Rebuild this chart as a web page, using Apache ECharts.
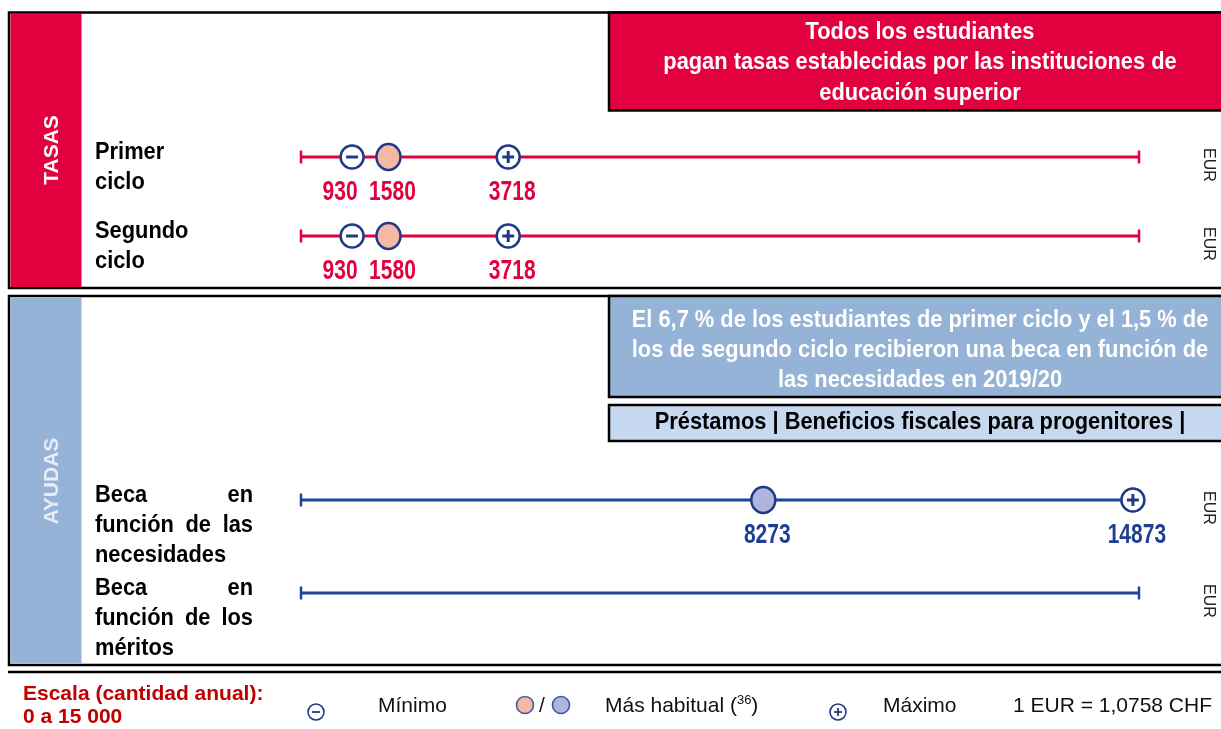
<!DOCTYPE html>
<html>
<head>
<meta charset="utf-8">
<script src="https://cdn.jsdelivr.net/npm/echarts@6/dist/echarts.min.js"></script>
<style>
  html, body { margin: 0; padding: 0; background: #fff; }
  #chart { width: 1221px; height: 729px; }
</style>
</head>
<body>
<div id="chart"></div>
<script>
// filas de cada bloque
const tasasRows = ['Primer\nciclo', 'Segundo\nciclo']
const ayudasRows = ['Beca en\nfunción de las\nnecesidades', 'Beca en\nfunción de los\nméritos']
// importes (EUR), null = sin dato
const tasasMin = [930, 930]
const tasasHab = [1580, 1580]
const tasasMax = [3718, 3718]
const ayudasMin = [null, null]
const ayudasHab = [8273, null]
const ayudasMax = [14873, null]
const scaleMin = 0
const scaleMax = 15000

const RED = '#e3003e'
const BLUE = '#1f4597'
const RING = '#203a8a'
const SANS = '"Liberation Sans", Arial, sans-serif'
const BOLD = 'bold 24px ' + SANS
const SQUEEZE = 0.91 // simula la fuente estrecha del original

const chart = echarts.init(document.getElementById('chart'))

const ctx = document.createElement('canvas').getContext('2d')
function measure(text, font)
{
  ctx.font = font
  return ctx.measureText(text).width
}

// datos para las series custom
function markerData(rows, mins, habs, maxs)
{
  const out = []
  rows.forEach((r, i) =>
  {
    if (mins[i] != null) out.push([mins[i], r, 'min'])
    if (habs[i] != null) out.push([habs[i], r, 'hab'])
    if (maxs[i] != null) out.push([maxs[i], r, 'max'])
  })
  return out
}

// etiqueta de fila, justificada como en el original
function rowLabel(label, x0, yFirst, justify)
{
  const lines = label.split('\n')
  const width = 158
  const out = []
  lines.forEach((line, li) =>
  {
    const y = yFirst + li * 30.3
    const words = line.split(' ')
    const last = li === lines.length - 1
    if (!justify || last || words.length < 2)
    {
      out.push({ type: 'text', x: x0, y: y, scaleX: SQUEEZE,
        style: { text: line, fill: '#000', font: BOLD, align: 'left', verticalAlign: 'middle' } })
      return
    }
    const ws = words.map(w => measure(w, BOLD) * SQUEEZE)
    const gap = (width - ws.reduce((a, b) => a + b, 0)) / (words.length - 1)
    let x = x0
    words.forEach((w, i) =>
    {
      out.push({ type: 'text', x: x, y: y, scaleX: SQUEEZE,
        style: { text: w, fill: '#000', font: BOLD, align: 'left', verticalAlign: 'middle' } })
      x += ws[i] + gap
    })
  })
  return out
}

function scaleSeries(gridIdx, rows, color, justify)
{
  return {
    type: 'custom',
    xAxisIndex: gridIdx,
    yAxisIndex: gridIdx,
    silent: true,
    data: rows.map(r => [scaleMin, scaleMax, r]),
    encode: { x: [0, 1], y: 2 },
    renderItem: function(params, api)
    {
      const a = api.coord([api.value(0), api.value(2)])
      const b = api.coord([api.value(1), api.value(2)])
      const y = a[1]
      return {
        type: 'group',
        children: [
          { type: 'line', shape: { x1: a[0], y1: y, x2: b[0], y2: y }, style: { stroke: color, lineWidth: 3 } },
          { type: 'line', shape: { x1: a[0] + 1, y1: y - 6.5, x2: a[0] + 1, y2: y + 6.5 }, style: { stroke: color, lineWidth: 2.5 } },
          { type: 'line', shape: { x1: b[0] - 1, y1: y - 6.5, x2: b[0] - 1, y2: y + 6.5 }, style: { stroke: color, lineWidth: 2.5 } },
          { type: 'text', x: b[0] + 68, y: y + 8, rotation: -Math.PI / 2,
            style: { text: 'EUR', fill: '#222', font: '16px ' + SANS, align: 'center', verticalAlign: 'middle' } },
          ...rowLabel(rows[params.dataIndex], a[0] - 205, y - 5, justify)
        ]
      }
    }
  }
}

function markerSeries(gridIdx, data, labelColor, fillColor)
{
  return {
    type: 'custom',
    xAxisIndex: gridIdx,
    yAxisIndex: gridIdx,
    silent: true,
    data: data,
    encode: { x: 0, y: 1 },
    renderItem: function(params, api)
    {
      const item = data[params.dataIndex]
      const p = api.coord([item[0], item[1]])
      const x = p[0], y = p[1]
      const kind = item[2]
      const children = [
        kind === 'hab'
          ? { type: 'ellipse', shape: { cx: x, cy: y, rx: 12, ry: 13 }, style: { fill: fillColor, stroke: RING, lineWidth: 2.5 } }
          : { type: 'circle', shape: { cx: x, cy: y, r: 11.5 }, style: { fill: '#fff', stroke: RING, lineWidth: 2.5 } }
      ]
      if (kind !== 'hab')
        children.push({ type: 'line', shape: { x1: x - 6, y1: y, x2: x + 6, y2: y }, style: { stroke: RING, lineWidth: 3 } })
      if (kind === 'max')
        children.push({ type: 'line', shape: { x1: x, y1: y - 6, x2: x, y2: y + 6 }, style: { stroke: RING, lineWidth: 3 } })
      children.push({
        type: 'text', x: kind === 'min' ? x - 12 : x + 4, y: y + 35, scaleX: 0.75,
        style: { text: String(item[0]), fill: labelColor, font: 'bold 28px ' + SANS, align: 'center', verticalAlign: 'middle' }
      })
      return { type: 'group', children: children }
    }
  }
}

function yAxis(gridIdx, rows)
{
  return {
    gridIndex: gridIdx, type: 'category', inverse: true, data: rows,
    axisLine: { show: false }, axisTick: { show: false }, splitLine: { show: false }, axisLabel: { show: false }
  }
}
function xAxis(gridIdx)
{
  return {
    gridIndex: gridIdx, type: 'value', min: scaleMin, max: scaleMax,
    axisLine: { show: false }, axisTick: { show: false }, axisLabel: { show: false }, splitLine: { show: false }
  }
}

function boxText(lines, x, y0, lh, color)
{
  return lines.map((t, i) => ({
    type: 'text', x: x, y: y0 + i * lh, z: 10, scaleX: SQUEEZE,
    style: { text: t, fill: color, font: BOLD, align: 'center', verticalAlign: 'middle' }
  }))
}

const LEG = '21px ' + SANS
const graphics = [
  // marcos
  { type: 'rect', shape: { x: 9, y: 12.5, width: 1230, height: 275.5 }, style: { fill: 'none', stroke: '#000', lineWidth: 2.5 } },
  { type: 'rect', shape: { x: 9, y: 296, width: 1230, height: 369 }, style: { fill: 'none', stroke: '#000', lineWidth: 2.5 } },
  { type: 'line', shape: { x1: 8, y1: 672, x2: 1221, y2: 672 }, style: { stroke: '#000', lineWidth: 2.5 } },
  // bandas laterales
  { type: 'rect', shape: { x: 10.5, y: 14, width: 71, height: 273 }, style: { fill: RED } },
  { type: 'rect', shape: { x: 10.5, y: 297.5, width: 71, height: 366 }, style: { fill: '#95b3d7' } },
  { type: 'text', x: 52, y: 150, rotation: Math.PI / 2,
    style: { text: 'TASAS', fill: '#fff', font: 'bold 21px ' + SANS, align: 'center', verticalAlign: 'middle' } },
  { type: 'text', x: 52, y: 481, rotation: Math.PI / 2,
    style: { text: 'AYUDAS', fill: '#e6edf7', font: 'bold 21px ' + SANS, align: 'center', verticalAlign: 'middle' } },
  // recuadros de texto
  { type: 'rect', shape: { x: 609, y: 12.5, width: 630, height: 98 }, style: { fill: RED, stroke: '#000', lineWidth: 2.5 } },
  { type: 'rect', shape: { x: 609, y: 296, width: 630, height: 101 }, style: { fill: '#95b3d7', stroke: '#000', lineWidth: 2.5 } },
  { type: 'rect', shape: { x: 609, y: 405, width: 630, height: 36 }, style: { fill: '#c6d9f1', stroke: '#000', lineWidth: 2.5 } },
  ...boxText(['Todos los estudiantes', 'pagan tasas establecidas por las instituciones de', 'educación superior'], 920, 32, 30.5, '#fff'),
  ...boxText(['El 6,7 % de los estudiantes de primer ciclo y el 1,5 % de', 'los de segundo ciclo recibieron una beca en función de', 'las necesidades en 2019/20'], 920, 320, 30, '#fff'),
  ...boxText(['Préstamos | Beneficios fiscales para progenitores |'], 920, 422, 30, '#000'),
  // leyenda
  { type: 'text', x: 23, y: 694, style: { text: 'Escala (cantidad anual):', fill: '#c00000', font: 'bold ' + LEG, verticalAlign: 'middle' } },
  { type: 'text', x: 23, y: 717, style: { text: '0 a 15 000', fill: '#c00000', font: 'bold ' + LEG, verticalAlign: 'middle' } },
  { type: 'circle', shape: { cx: 316, cy: 712, r: 8 }, style: { fill: '#fff', stroke: RING, lineWidth: 1.6 } },
  { type: 'line', shape: { x1: 312, y1: 712, x2: 320, y2: 712 }, style: { stroke: RING, lineWidth: 1.8 } },
  { type: 'text', x: 378, y: 706, style: { text: 'Mínimo', fill: '#111', font: LEG, verticalAlign: 'middle' } },
  { type: 'circle', shape: { cx: 525, cy: 705, r: 8.5 }, style: { fill: '#f4b9a6', stroke: '#3b5ba5', lineWidth: 1.6 } },
  { type: 'text', x: 542, y: 706, style: { text: '/', fill: '#111', font: LEG, verticalAlign: 'middle', align: 'center' } },
  { type: 'circle', shape: { cx: 561, cy: 705, r: 8.5 }, style: { fill: '#b1b5dc', stroke: '#3b5ba5', lineWidth: 1.6 } },
  { type: 'text', x: 605, y: 706, style: {
      text: '{n|Más habitual (}{sup|36}{n|)}', verticalAlign: 'middle',
      rich: { n: { fontSize: 21, fontFamily: SANS, fill: '#111' }, sup: { fontSize: 13, fontFamily: SANS, fill: '#111', padding: [0, 0, 12, 0] } } } },
  { type: 'circle', shape: { cx: 838, cy: 712, r: 8 }, style: { fill: '#fff', stroke: RING, lineWidth: 1.6 } },
  { type: 'line', shape: { x1: 834, y1: 712, x2: 842, y2: 712 }, style: { stroke: RING, lineWidth: 1.8 } },
  { type: 'line', shape: { x1: 838, y1: 708, x2: 838, y2: 716 }, style: { stroke: RING, lineWidth: 1.8 } },
  { type: 'text', x: 883, y: 706, style: { text: 'Máximo', fill: '#111', font: LEG, verticalAlign: 'middle' } },
  { type: 'text', x: 1013, y: 706, style: { text: '1 EUR = 1,0758 CHF', fill: '#111', font: LEG, verticalAlign: 'middle' } }
]

const option = {
  animation: false,
  grid: [
    { left: 300, right: 81, top: 117.5, height: 158 },
    { left: 300, right: 81, top: 453.5, height: 186 }
  ],
  xAxis: [xAxis(0), xAxis(1)],
  yAxis: [yAxis(0, tasasRows), yAxis(1, ayudasRows)],
  graphic: graphics,
  series: [
    scaleSeries(0, tasasRows, RED, false),
    scaleSeries(1, ayudasRows, BLUE, true),
    markerSeries(0, markerData(tasasRows, tasasMin, tasasHab, tasasMax), RED, '#f4b9a6'),
    markerSeries(1, markerData(ayudasRows, ayudasMin, ayudasHab, ayudasMax), '#1f3f90', '#b1b5dc')
  ]
}
chart.setOption(option)
</script>
</body>
</html>
